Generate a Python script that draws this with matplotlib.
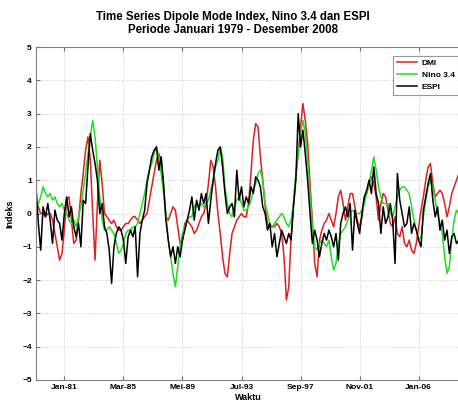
import numpy as np
import matplotlib.pyplot as plt

plt.rcParams['font.family'] = ['Liberation Sans', 'DejaVu Sans']
plt.rcParams['font.weight'] = 'bold'

# bimonthly samples, Jan 1979 - Nov 2008 (month index 0, 2, ..., 358)
months = np.arange(0, 360, 2)

dmi = [
    0.3, 0.2, 0.0, 0.0, -0.1, 0.0,        # 1979
    0.0, -0.2, -0.6, -1.0, -1.4, -1.2,    # 1980
    -0.5, 0.4, 0.5, -0.2, -0.9, -0.8,     # 1981
    -0.2, 0.6, 1.2, 1.9, 2.3, 1.6,        # 1982
    0.0, -1.4, 0.3, 1.6, 0.9, 0.0,        # 1983
    -0.1, -0.2, -0.3, -0.2, -0.4, -0.5,   # 1984
    -0.5, -0.4, -0.3, -0.3, -0.2, -0.1,   # 1985
    -0.1, -0.2, -0.3, -0.2, -0.1, 0.0,    # 1986
    0.4, 0.8, 1.2, 1.6, 1.8, 1.6,         # 1987
    0.8, -0.1, -0.2, 0.0, 0.2, 0.1,       # 1988
    -0.4, -0.9, -0.8, -0.3, -0.2, -0.3,   # 1989
    -0.4, -0.6, -0.5, -0.3, -0.1, 0.0,    # 1990
    0.3, 0.9, 1.6, 1.4, 0.8, 0.0,         # 1991
    -0.6, -1.3, -1.8, -1.9, -1.2, -0.6,   # 1992
    -0.4, -0.2, -0.1, 0.0, -0.1, -0.1,    # 1993
    0.3, 1.2, 2.2, 2.7, 2.6, 1.7,         # 1994
    1.0, 0.2, -0.3, -0.4, -0.4, -0.4,     # 1995
    -0.3, -0.4, -0.6, -1.3, -2.6, -2.2,   # 1996
    -0.7, 0.3, 1.1, 1.8, 2.6, 3.3,        # 1997
    2.8, 2.1, 0.9, -0.2, -1.5, -1.9,      # 1998
    -0.8, -0.5, -0.3, -0.2, 0.0, -0.2,    # 1999
    -0.4, 0.0, 0.5, 0.7, 0.3, -0.2,       # 2000
    0.2, 0.6, 0.6, 0.2, -0.2, -0.4,       # 2001
    -0.1, 0.5, 0.6, 0.9, 1.1, 0.9,        # 2002
    0.5, -0.2, 0.3, 0.6, 0.5, 0.1,        # 2003
    -0.3, -0.4, -0.1, -0.6, -0.7, -0.4,   # 2004
    -0.9, -1.0, -0.8, -1.1, -1.2, -0.9,   # 2005
    -0.4, 0.1, 0.5, 1.0, 1.4, 1.5,        # 2006
    0.9, 0.5, 0.6, 0.7, 0.6, 0.3,         # 2007
    -0.1, 0.2, 0.6, 0.8, 1.0, 1.2,        # 2008
]

nino34 = [
    0.1, 0.3, 0.5, 0.8, 0.6, 0.5,
    0.6, 0.4, 0.5, 0.3, 0.2, 0.3,
    0.1, 0.0, -0.2, -0.3, -0.2, -0.4,
    -0.1, 0.2, 0.7, 1.2, 1.8, 2.3,
    2.8, 2.3, 1.4, 0.5, -0.2, -0.5,
    -0.5, -0.4, -0.5, -0.6, -0.9, -1.2,
    -1.1, -0.9, -0.6, -0.5, -0.5, -0.4,
    -0.4, -0.3, 0.0, 0.3, 0.6, 1.0,
    1.3, 1.5, 1.8, 2.0, 1.7, 1.2,
    0.6, 0.0, -0.8, -1.3, -1.8, -2.2,
    -1.6, -1.0, -0.6, -0.4, -0.2, -0.1,
    -0.1, 0.2, 0.3, 0.2, 0.3, 0.2,
    0.3, 0.4, 0.7, 1.0, 1.4, 1.6,
    2.0, 1.7, 0.8, 0.3, 0.0, -0.1,
    0.2, 0.4, 0.5, 0.3, 0.1, 0.1,
    0.2, 0.4, 0.7, 0.9, 1.2, 1.3,
    1.0, 0.3, 0.0, -0.3, -0.4, -0.3,
    -0.2, -0.1, 0.0, -0.1, -0.3, -0.4,
    -0.2, 0.3, 1.2, 1.8, 2.4, 2.8,
    2.4, 1.6, 0.6, -0.4, -1.0, -1.1,
    -0.9, -0.8, -0.9, -1.0, -0.8, -1.3,
    -1.7, -1.5, -0.9, -0.6, -0.5, -0.4,
    -0.2, 0.0, 0.1, 0.0, 0.0, 0.0,
    0.1, 0.3, 0.6, 0.9, 1.3, 1.7,
    1.3, 0.8, 0.5, 0.3, 0.3, 0.3,
    0.0, -0.1, 0.2, 0.5, 0.7, 0.8,
    0.8, 0.7, 0.6, 0.2, -0.2, -0.5,
    -0.8, -0.7, -0.1, 0.4, 0.8, 1.0,
    0.8, 0.4, 0.0, -0.3, -0.6, -1.3,
    -1.8, -1.6, -0.8, -0.2, 0.1, 0.0,
]

espi = [
    0.8, -0.3, -1.1, 0.2, -0.1, 0.3,
    -0.2, -0.9, 0.1, -0.2, -0.3, -0.8,
    0.0, 0.5, -0.1, 0.2, -0.4, -0.7,
    -0.3, -1.0, 0.4, 0.3, 1.4, 2.4,
    1.9, 1.5, 1.0, 0.0, 0.3, -0.4,
    -0.6, -1.1, -2.1, -1.0, -0.6, -0.4,
    -0.5, -0.8, -1.5, -0.7, -0.5, -0.7,
    -0.4, -1.9, -0.6, -0.2, 0.1, 0.9,
    1.3, 1.7, 1.9, 2.0, 1.3, 1.7,
    0.9, -0.2, -0.8, -1.3, -1.0, -1.5,
    -1.0, -1.3, -0.8, -0.5, -0.2, 0.1,
    0.5, -0.2, 0.4, 0.1, 0.6, 0.3,
    0.6, -0.3, 0.4, 1.0, 1.5, 1.9,
    2.0, 1.4, 0.6, 0.0, 0.2, 0.3,
    -0.1, 1.3, 0.4, 0.8, 0.2, 0.5,
    0.3, 0.8, 0.6, 1.1, 1.0, 0.8,
    0.2, 0.0, -0.5, -0.3, -1.0, -0.6,
    -1.3, -0.9, -0.5, -0.7, -0.9, -0.6,
    -0.8, 0.2, 1.0, 3.0, 2.0, 2.5,
    1.8, 1.0, 0.0, -0.9, -0.5, -0.8,
    -1.3, -0.9, -0.6, -0.8, -0.5, -0.7,
    -1.0, -0.6, -1.4, -0.3, 0.0, 0.2,
    -0.1, 0.3, -1.1, 0.1, -0.3, -0.6,
    0.0, 0.5, 0.7, 1.0, 0.6, 1.4,
    0.6, 0.3, -0.6, 0.2, -0.3, -0.1,
    0.3, -0.2, -1.5, 1.2, 0.4, 0.0,
    -0.4, -0.3, 0.2, -0.6, -0.3, -0.5,
    -0.8, -1.0, 0.1, 0.5, 0.9, 1.2,
    0.4, -0.1, 0.2, -0.5, -0.2, -0.8,
    -0.5, -1.2, -0.7, -0.6, -0.9, -0.8,
]

tick_months = [24, 74, 124, 174, 224, 274, 324]
tick_labels = ['Jan-81', 'Mar-85', 'Mei-89', 'Jul-93', 'Sep-97', 'Nov-01', 'Jan-06']

fig = plt.figure(figsize=(4.58, 4.04), dpi=100)
ax = fig.add_axes([36 / 458, 24 / 404, 424 / 458, 333 / 404])

ax.plot(months, dmi, color='#e02020', lw=1.1, label='DMI')
ax.plot(months, nino34, color='#22dd22', lw=1.1, label='Nino 3.4')
ax.plot(months, espi, color='black', lw=1.1, label='ESPI')

ax.set_xlim(0, 359)
ax.set_ylim(-5, 5)
ax.set_xticks(tick_months)
ax.set_xticklabels(tick_labels)
ax.set_yticks(range(-5, 6))
ax.tick_params(direction='in', length=3, labelsize=6, color='#707070',
               top=True, pad=3)
ax.grid(True, linestyle=':', color='#c8c8c8', lw=0.7)
for s in ax.spines.values():
    s.set_color('#808080')

ax.set_xlabel('Waktu', fontsize=6.5, fontweight='bold', labelpad=1)
ax.set_ylabel('Indeks', fontsize=6.5, fontweight='bold', labelpad=6)
ax.set_title('Time Series Dipole Mode Index, Nino 3.4 dan ESPI\n'
             'Periode Januari 1979 - Desember 2008',
             fontsize=8.3, fontweight='bold', pad=10, x=0.465,
             linespacing=1.15)

leg = ax.legend(loc='upper right', bbox_to_anchor=(1.005, 0.985), fontsize=6,
                frameon=True, fancybox=False, handlelength=2.5,
                borderpad=0.4, labelspacing=0.5, handletextpad=0.5)
leg.get_frame().set_edgecolor('#808080')
leg.get_frame().set_linewidth(0.8)

fig.savefig('out.png', dpi=100)
